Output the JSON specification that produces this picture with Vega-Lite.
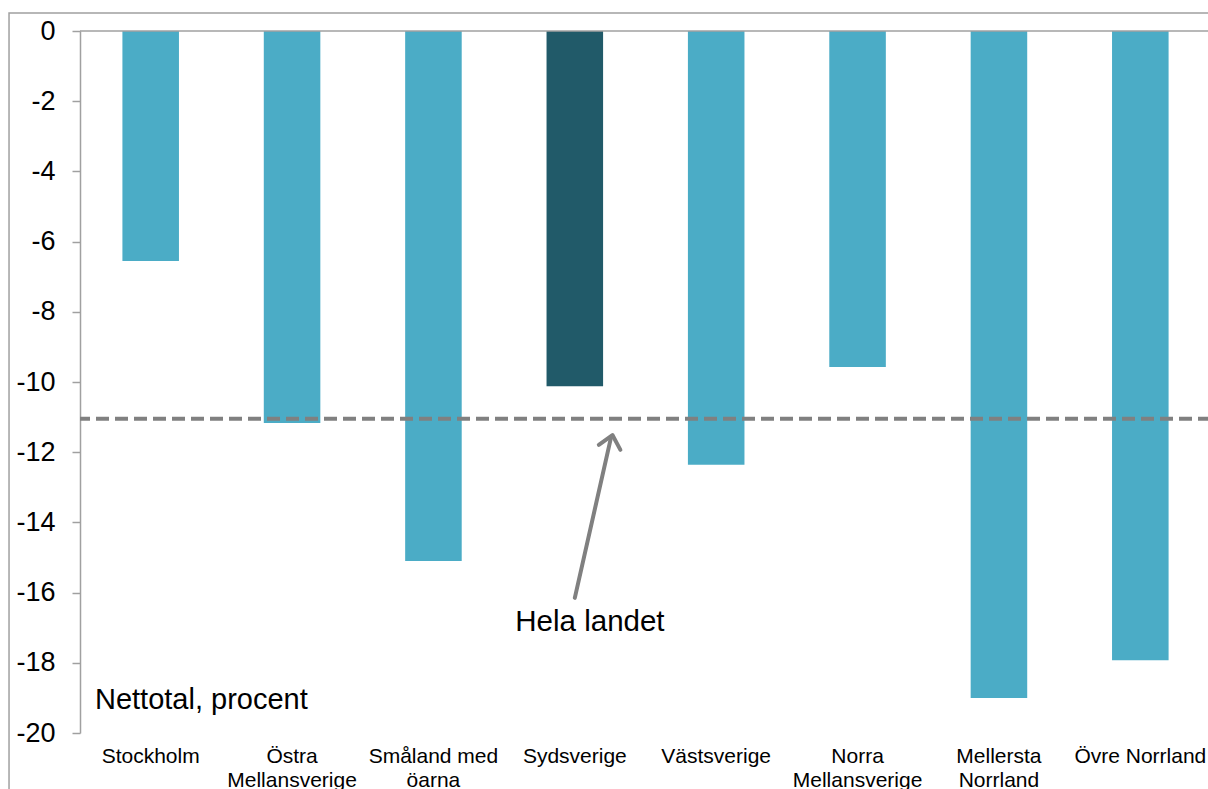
{
  "$schema": "https://vega.github.io/schema/vega-lite/v6.json",
  "autosize": "none",
  "width": 1131,
  "height": 702,
  "padding": {"left": 80, "top": 31, "right": 0, "bottom": 56},
  "background": "white",
  "config": {"font": "Liberation Sans", "view": {"stroke": null}},
  "datasets": {
    "regions": [
      {"region": "Stockholm", "value": -6.55},
      {"region": "Östra Mellansverige", "value": -11.17},
      {"region": "Småland med öarna", "value": -15.1},
      {"region": "Sydsverige", "value": -10.12},
      {"region": "Västsverige", "value": -12.36},
      {"region": "Norra Mellansverige", "value": -9.57},
      {"region": "Mellersta Norrland", "value": -19.0},
      {"region": "Övre Norrland", "value": -17.93}
    ],
    "national": [{"name": "Hela landet", "value": -11.05}],
    "arrow": [{"x": 3.5, "y": -16.15, "x2": 3.755, "y2": -11.6}],
    "head": [{"x": 3.76, "y": -11.62}],
    "notes_left": [{"note": "Nettotal, procent", "x": 0.106, "y": -19.06}],
    "notes_center": [{"note": "Hela landet", "x": 3.607, "y": -16.84}],
    "frame": [{"x": -0.502, "x2": 9, "y": 0.513, "y2": -23}]
  },
  "resolve": {"scale": {"x": "independent"}},
  "layer": [
    {
      "data": {"name": "regions"},
      "mark": {"type": "bar"},
      "encoding": {
        "x": {
          "field": "region",
          "type": "nominal",
          "sort": null,
          "scale": {"paddingInner": 0.6, "paddingOuter": 0.3},
          "axis": {
            "orient": "bottom",
            "title": null,
            "labelAngle": 0,
            "ticks": false,
            "domain": false,
            "labelPadding": 12,
            "labelFontSize": 21,
            "labelColor": "black",
            "labelLimit": 0,
            "labelLineHeight": 24,
            "labelExpr": "datum.label == 'Östra Mellansverige' ? ['Östra', 'Mellansverige'] : datum.label == 'Småland med öarna' ? ['Småland med', 'öarna'] : datum.label == 'Norra Mellansverige' ? ['Norra', 'Mellansverige'] : datum.label == 'Mellersta Norrland' ? ['Mellersta', 'Norrland'] : datum.label"
          }
        },
        "y": {
          "field": "value",
          "type": "quantitative",
          "scale": {"domain": [-20, 0], "nice": false},
          "axis": {
            "title": null,
            "values": [0, -2, -4, -6, -8, -10, -12, -14, -16, -18, -20],
            "labelExpr": "replace(datum.label, '\u2212', '-')",
            "grid": false,
            "tickSize": 8,
            "tickColor": "#A0A0A0",
            "tickWidth": 1.5,
            "domainColor": "#A0A0A0",
            "domainWidth": 1.5,
            "labelFontSize": 27,
            "labelColor": "black",
            "labelPadding": 17
          }
        },
        "color": {
          "condition": {"test": "datum.region == 'Sydsverige'", "value": "#215A69"},
          "value": "#4BACC6"
        }
      }
    },
    {
      "data": {"values": [{"zero": 0}]},
      "mark": {"type": "rule", "color": "#A0A0A0", "strokeWidth": 1.5},
      "encoding": {"y": {"field": "zero", "type": "quantitative"}}
    },
    {
      "data": {"name": "national"},
      "mark": {"type": "rule", "color": "#808080", "strokeWidth": 4, "strokeDash": [13, 6]},
      "encoding": {"y": {"field": "value", "type": "quantitative"}}
    },
    {
      "data": {"name": "arrow"},
      "mark": {"type": "rule", "color": "#808080", "strokeWidth": 4, "strokeCap": "round"},
      "encoding": {
        "x": {"field": "x", "type": "quantitative", "scale": {"domain": [0, 8], "nice": false, "zero": false}, "axis": null},
        "x2": {"field": "x2"},
        "y": {"field": "y", "type": "quantitative"},
        "y2": {"field": "y2"}
      }
    },
    {
      "data": {"name": "head"},
      "mark": {"type": "point", "shape": "M -0.7 0.55 L 0 -0.25 L 0.7 0.55", "filled": false, "stroke": "#808080", "strokeWidth": 4, "strokeCap": "round", "strokeJoin": "round", "size": 1000, "angle": 13, "opacity": 1},
      "encoding": {
        "x": {"field": "x", "type": "quantitative", "scale": {"domain": [0, 8], "nice": false, "zero": false}, "axis": null},
        "y": {"field": "y", "type": "quantitative"}
      }
    },
    {
      "data": {"name": "notes_left"},
      "mark": {"type": "text", "align": "left", "baseline": "middle", "fontSize": 29, "color": "black"},
      "encoding": {
        "x": {"field": "x", "type": "quantitative", "scale": {"domain": [0, 8], "nice": false, "zero": false}, "axis": null},
        "y": {"field": "y", "type": "quantitative"},
        "text": {"field": "note"}
      }
    },
    {
      "data": {"name": "notes_center"},
      "mark": {"type": "text", "align": "center", "baseline": "middle", "fontSize": 29.5, "color": "black"},
      "encoding": {
        "x": {"field": "x", "type": "quantitative", "scale": {"domain": [0, 8], "nice": false, "zero": false}, "axis": null},
        "y": {"field": "y", "type": "quantitative"},
        "text": {"field": "note"}
      }
    },
    {
      "data": {"name": "frame"},
      "mark": {"type": "rect", "fill": null, "filled": false, "stroke": "#A0A0A0", "strokeWidth": 1.5},
      "encoding": {
        "x": {"field": "x", "type": "quantitative", "scale": {"domain": [0, 8], "nice": false, "zero": false}, "axis": null},
        "x2": {"field": "x2"},
        "y": {"field": "y", "type": "quantitative"},
        "y2": {"field": "y2"}
      }
    }
  ]
}
